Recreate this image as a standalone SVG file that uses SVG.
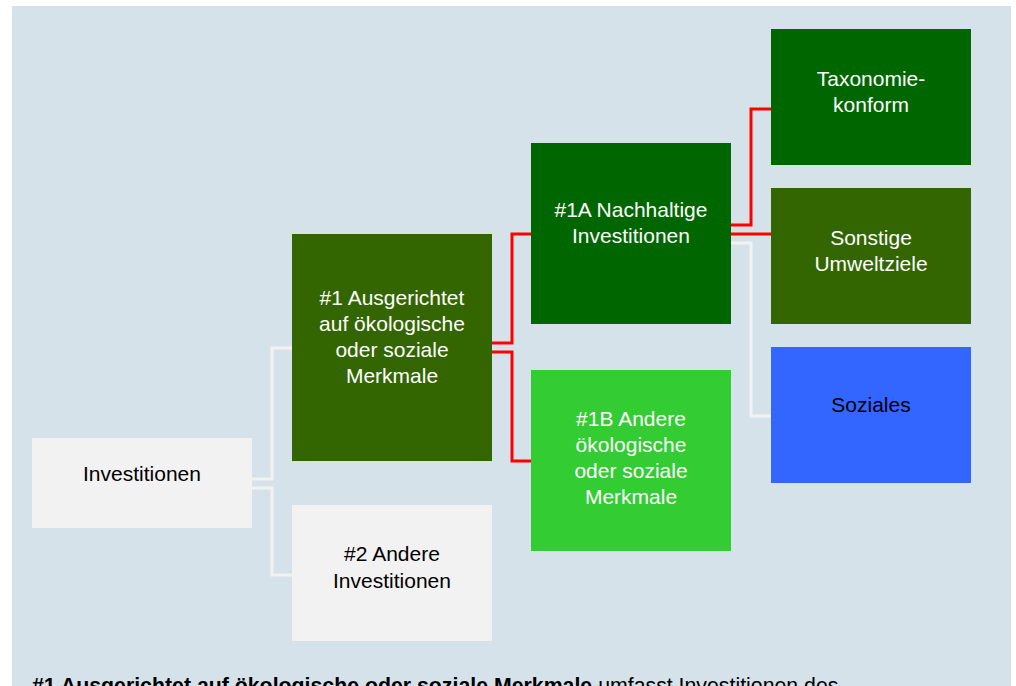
<svg xmlns="http://www.w3.org/2000/svg" width="1016" height="686" viewBox="0 0 1016 686">
<style>
text{font-family:"Liberation Sans",Arial,sans-serif;font-size:21px;text-anchor:middle}
.w{fill:#ffffff}
.k{fill:#000000}
.wire{fill:none;stroke:#f2f2f2;stroke-width:3}
.red{fill:none;stroke:#ff0000;stroke-width:3}
</style>
<rect x="0" y="0" width="1016" height="686" fill="#ffffff"/>
<rect x="12" y="6" width="999" height="690" fill="#d6e2ea"/>
<g id="connectors">
<path class="wire" d="M252 479H272V348H292"/>
<path class="wire" d="M252 488H272V575H292"/>
<path class="red" d="M492 343H512V234H531"/>
<path class="red" d="M492 352H512V461H531"/>
<path class="red" d="M731 225H751V109H771"/>
<path class="red" d="M731 234H771"/>
<path class="wire" d="M731 243H751V416H771"/>
</g>
<g id="investitionen">
<rect x="32" y="438" width="220" height="90" fill="#f2f2f2"/>
<text class="k" x="142" y="481">Investitionen</text>
</g>
<g id="n1">
<rect x="292" y="234" width="200" height="227" fill="#336600"/>
<text class="w" x="392" y="305">#1 Ausgerichtet</text>
<text class="w" x="392" y="331">auf ökologische</text>
<text class="w" x="392" y="357">oder soziale</text>
<text class="w" x="392" y="383">Merkmale</text>
</g>
<g id="n2">
<rect x="292" y="505" width="200" height="136" fill="#f2f2f2"/>
<text class="k" x="392" y="561">#2 Andere</text>
<text class="k" x="392" y="588">Investitionen</text>
</g>
<g id="n1a">
<rect x="531" y="143" width="200" height="181" fill="#006600"/>
<text class="w" x="631" y="217">#1A Nachhaltige</text>
<text class="w" x="631" y="243">Investitionen</text>
</g>
<g id="n1b">
<rect x="531" y="370" width="200" height="181" fill="#33cc33"/>
<text class="w" x="631" y="426">#1B Andere</text>
<text class="w" x="631" y="452">ökologische</text>
<text class="w" x="631" y="478">oder soziale</text>
<text class="w" x="631" y="504">Merkmale</text>
</g>
<g id="taxonomie">
<rect x="771" y="29" width="200" height="136" fill="#006600"/>
<text class="w" x="871" y="86">Taxonomie-</text>
<text class="w" x="871" y="112">konform</text>
</g>
<g id="sonstige">
<rect x="771" y="188" width="200" height="136" fill="#336600"/>
<text class="w" x="871" y="245">Sonstige</text>
<text class="w" x="871" y="271">Umweltziele</text>
</g>
<g id="soziales">
<rect x="771" y="347" width="200" height="136" fill="#3366ff"/>
<text class="k" x="871" y="412">Soziales</text>
</g>
<text class="k" x="32" y="693" style="text-anchor:start;font-size:21.3px"><tspan font-weight="bold">#1 Ausgerichtet auf ökologische oder soziale Merkmale</tspan> umfasst Investitionen des</text>
</svg>
